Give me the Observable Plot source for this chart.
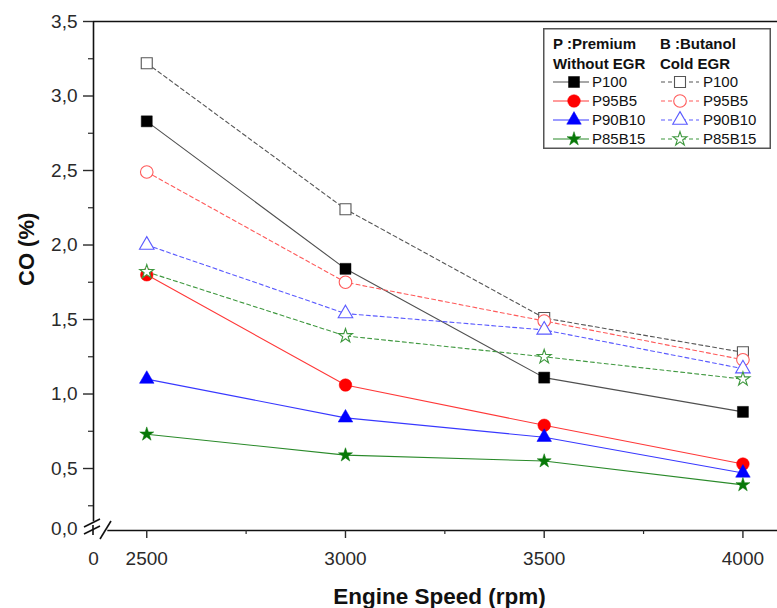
<!DOCTYPE html>
<html>
<head>
<meta charset="utf-8">
<script src="https://cdn.jsdelivr.net/npm/d3@7"></script>
<script src="https://cdn.jsdelivr.net/npm/@observablehq/plot@0.6"></script>
<style>
  body { margin: 0; background: #fff; }
  #wrap { position: relative; width: 777px; height: 608px; overflow: hidden; font-family: "Liberation Sans", Arial, sans-serif; }
  #legend { position: absolute; left: 543px; top: 28px; }
</style>
</head>
<body>
<div id="wrap"></div>
<script>
// ---- data ----
const speeds = [2500, 3000, 3500, 4000];
const seriesNames = ["P100", "P95B5", "P90B10", "P85B15"];
const withoutEGR_P100   = [2.83, 1.84, 1.11, 0.88];
const withoutEGR_P95B5  = [1.80, 1.06, 0.79, 0.53];
const withoutEGR_P90B10 = [1.10, 0.84, 0.71, 0.47];
const withoutEGR_P85B15 = [0.73, 0.59, 0.55, 0.39];
const coldEGR_P100      = [3.22, 2.24, 1.51, 1.28];
const coldEGR_P95B5     = [2.49, 1.75, 1.49, 1.23];
const coldEGR_P90B10    = [2.00, 1.54, 1.43, 1.17];
const coldEGR_P85B15    = [1.82, 1.39, 1.25, 1.10];
const xTicks = [2500, 3000, 3500, 4000];
const xMinorTicks = [2750, 3250, 3750];
const yTicks = [0.5, 1.0, 1.5, 2.0, 2.5, 3.0, 3.5];
const yMinorTicks = [0.25, 0.75, 1.25, 1.75, 2.25, 2.75, 3.25];
const legendHeaders = [["P :Premium", "Without EGR"], ["B :Butanol", "Cold EGR"]];

// ---- styles ----
const xMin = 2366, xMax = 4087, yMin = 0.084, yMax = 3.5;
const symbols = ["square", "circle", "triangle", "star"];
const radii = [6.2, 6.3, 5.4, 4.4];
const solidLine = ["#505050", "#ff3838", "#3838ff", "#2a8a2a"];
const solidFill = ["#000000", "#ff0000", "#0000ff", "#087808"];
const dashColor = ["#555555", "#ff5a5a", "#5a5aff", "#3f983f"];

const withoutSets = [withoutEGR_P100, withoutEGR_P95B5, withoutEGR_P90B10, withoutEGR_P85B15];
const coldSets = [coldEGR_P100, coldEGR_P95B5, coldEGR_P90B10, coldEGR_P85B15];
const rows = vals => speeds.map((s, i) => ({speed: s, co: vals[i]}));

const marks = [];
withoutSets.forEach((vals, k) => {
  marks.push(Plot.line(rows(vals), {x: "speed", y: "co", stroke: solidLine[k], strokeWidth: 1.1}));
});
withoutSets.forEach((vals, k) => {
  marks.push(Plot.dot(rows(vals), {x: "speed", y: "co", symbol: symbols[k], r: radii[k], fill: solidFill[k], stroke: solidFill[k], strokeWidth: 0.5}));
});
coldSets.forEach((vals, k) => {
  marks.push(Plot.line(rows(vals), {x: "speed", y: "co", stroke: dashColor[k], strokeWidth: 1.1, strokeDasharray: "4,3"}));
});
coldSets.forEach((vals, k) => {
  marks.push(Plot.dot(rows(vals), {x: "speed", y: "co", symbol: symbols[k], r: radii[k], fill: "white", stroke: dashColor[k], strokeWidth: 1.1}));
});

const fmt = d => d.toFixed(1).replace(".", ",");

const plot = Plot.plot({
  width: 777, height: 608,
  marginTop: 21, marginBottom: 78, marginLeft: 93, marginRight: 0,
  x: {domain: [xMin, xMax], axis: null},
  y: {domain: [yMin, yMax], axis: null},
  style: {background: "white", fontFamily: "Liberation Sans, Arial, sans-serif", color: "#2a2a2a", overflow: "visible"},
  marks: [
    // frame / axis lines
    Plot.ruleY([yMax], {stroke: "#111", strokeWidth: 1.6}),
    Plot.ruleX([xMin], {y1: 0.143, y2: yMax, stroke: "#111", strokeWidth: 1.6}),
    Plot.ruleY([yMin], {x1: 2402, x2: xMax, stroke: "#111", strokeWidth: 1.6}),
    // y axis
    Plot.axisY(yTicks, {anchor: "left", label: null, tickSize: 10, tickPadding: 6, tickFormat: fmt, fontSize: 19, strokeWidth: 1.4}),
    Plot.axisY(yMinorTicks, {anchor: "left", label: null, tickSize: 5, tickFormat: () => "", strokeWidth: 1.2}),
    Plot.axisY([yMin], {anchor: "left", label: null, tickSize: 0, tickPadding: 16, tickFormat: () => "0,0", fontSize: 19, dy: -2}),
    // x axis
    Plot.axisX(xTicks, {anchor: "bottom", label: null, tickSize: 8, tickPadding: 13, tickFormat: d => String(d), fontSize: 19, strokeWidth: 1.4}),
    Plot.axisX(xMinorTicks, {anchor: "bottom", label: null, tickSize: 4, tickFormat: () => "", strokeWidth: 1.2}),
    Plot.axisX([xMin], {anchor: "bottom", label: null, tickSize: 0, tickPadding: 21, tickFormat: () => "0", fontSize: 19}),
    // axis titles
    Plot.text(["CO (%)"], {frameAnchor: "left", dx: -67, dy: 10, rotate: -90, fontWeight: "bold", fontSize: 22, fill: "#111"}),
    Plot.text(["Engine Speed (rpm)"], {frameAnchor: "bottom", dx: 4, dy: 73, fontWeight: "bold", fontSize: 22.5, fill: "#111"}),
    ...marks
  ]
});

// axis break marks
const sx = plot.scale("x"), sy = plot.scale("y");
const px0 = sx.apply(xMin), py0 = sy.apply(yMin);
const brk = d3.select(plot).append("g").attr("stroke", "#111").attr("stroke-width", 1.6).attr("fill", "none");
brk.append("line").attr("x1", px0 - 9).attr("y1", py0 - 3).attr("x2", px0 + 7).attr("y2", py0 - 11);
brk.append("line").attr("x1", px0 - 9).attr("y1", py0 + 4).attr("x2", px0 + 7).attr("y2", py0 - 4);
brk.append("line").attr("x1", px0).attr("y1", py0 - 5).attr("x2", px0).attr("y2", py0 + 5);
brk.append("line").attr("x1", px0 + 7).attr("y1", py0 + 9).attr("x2", px0 + 18).attr("y2", py0 - 9);

document.getElementById("wrap").appendChild(plot);

// ---- legend ----
const lw = 228, lh = 121;
const leg = d3.select("#wrap").append("svg").attr("id", "legend")
  .attr("width", lw).attr("height", lh)
  .style("font-family", "Liberation Sans, Arial, sans-serif");
leg.append("rect").attr("x", 0.75).attr("y", 0.75).attr("width", lw - 1.5).attr("height", lh - 1.5)
  .attr("fill", "white").attr("stroke", "#555").attr("stroke-width", 1.5);
const colX = [10, 117];
legendHeaders.forEach((h, c) => {
  h.forEach((t, j) => {
    leg.append("text").attr("x", colX[c]).attr("y", 21 + j * 19.5).attr("font-size", 15)
      .attr("font-weight", "bold").attr("fill", "#111").text(t);
  });
});
const symMap = {square: d3.symbolSquare, circle: d3.symbolCircle, triangle: d3.symbolTriangle, star: d3.symbolStar};
seriesNames.forEach((name, k) => {
  const cy = 54 + k * 19;
  // solid column
  leg.append("line").attr("x1", 10).attr("x2", 46).attr("y1", cy).attr("y2", cy).attr("stroke", solidLine[k]).attr("stroke-width", 1.1);
  leg.append("path").attr("transform", `translate(31,${cy})`)
    .attr("d", d3.symbol(symMap[symbols[k]], Math.PI * radii[k] * radii[k])())
    .attr("fill", solidFill[k]).attr("stroke", solidFill[k]).attr("stroke-width", 0.5);
  leg.append("text").attr("x", 49).attr("y", cy + 5).attr("font-size", 15).attr("fill", "#111").text(name);
  // dashed column
  leg.append("line").attr("x1", 118).attr("x2", 156).attr("y1", cy).attr("y2", cy).attr("stroke", dashColor[k]).attr("stroke-width", 1.1).attr("stroke-dasharray", "4,3");
  leg.append("path").attr("transform", `translate(137,${cy})`)
    .attr("d", d3.symbol(symMap[symbols[k]], Math.PI * radii[k] * radii[k])())
    .attr("fill", "white").attr("stroke", dashColor[k]).attr("stroke-width", 1.1);
  leg.append("text").attr("x", 160).attr("y", cy + 5).attr("font-size", 15).attr("fill", "#111").text(name);
});
</script>
</body>
</html>
